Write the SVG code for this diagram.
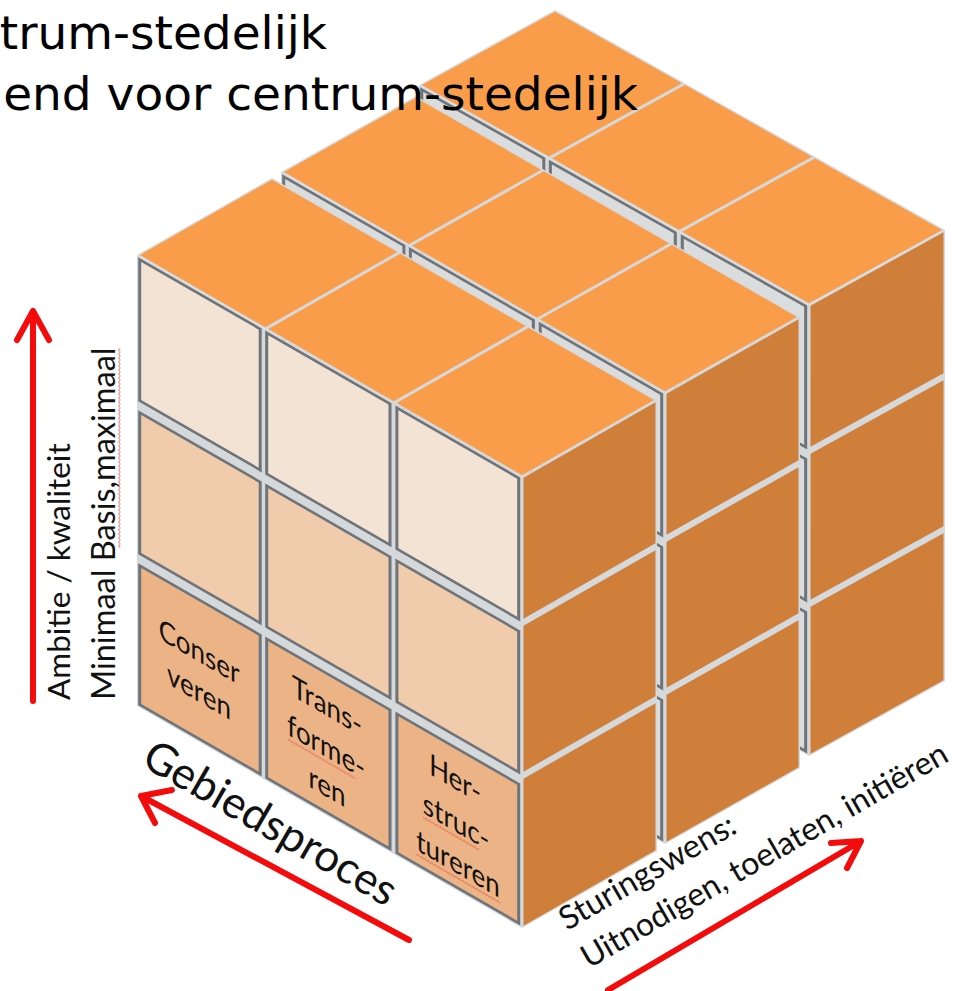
<svg xmlns="http://www.w3.org/2000/svg" width="971" height="991" viewBox="0 0 971 991">
<defs>
<style>
.bg{fill:#D6D9DC}
.top{fill:#F99D4A}
.side{fill:#CF7F39}
.ft{stroke:#6F7479;stroke-width:3}
.r1{fill:#F3E3D5}.r2{fill:#F1CCAC}.r3{fill:#ECB486}
.hid{fill:#DADCDD}
.lbl{font-family:Lato,"Liberation Sans",sans-serif;fill:#111}
.tt{font-family:"DejaVu Sans",Verdana,sans-serif;font-size:47px;fill:#000}
.arr{fill:none;stroke:#F40B0B;stroke-width:6;stroke-linecap:round;stroke-linejoin:round}
</style>
<pattern id="squig" width="4" height="3" patternUnits="userSpaceOnUse"><path d="M0 2.5 L2 0.5 L4 2.5" fill="none" stroke="#E0463C" stroke-width="0.9"/></pattern>
</defs>
<rect width="971" height="991" fill="#FFFFFF"/>

<g id="slab-back">
 <g transform="matrix(1.01299 0.57143 0 1 419 85)">
  <rect class="bg" width="385" height="451"/>
  <g class="ft hid">
   <rect x="2.7" y="3" width="120.5" height="141"/><rect x="129.7" y="3" width="123.3" height="141"/><rect x="259.9" y="3" width="121.8" height="141"/>
   <rect x="2.7" y="156" width="120.5" height="141"/><rect x="129.7" y="156" width="123.3" height="141"/><rect x="259.9" y="156" width="121.8" height="141"/>
   <rect x="2.7" y="309" width="120.5" height="139"/><rect x="129.7" y="309" width="123.3" height="139"/><rect x="259.9" y="309" width="121.8" height="139"/>
  </g>
 </g>
 <g transform="matrix(1.01299 0.57143 1.00741 -0.55556 419 85)">
  <rect class="bg" width="385" height="135"/>
  <rect class="top" x="1.5" y="1.5" width="125.3" height="132"/><rect class="top" x="129.8" y="1.5" width="125.4" height="132"/><rect class="top" x="258.2" y="1.5" width="125.3" height="132"/>
 </g>
 <g transform="matrix(1.00741 -0.55556 0 1 809 305)">
  <rect class="bg" width="135" height="451"/>
  <rect class="side" x="1.5" y="1.5" width="132" height="141"/><rect class="side" x="1.5" y="149.5" width="132" height="146"/><rect class="side" x="1.5" y="302.5" width="132" height="147"/>
 </g>
</g>

<g id="slab-middle">
 <g transform="matrix(0.9974 0.57403 0 1 281 172)">
  <rect class="bg" width="385" height="451"/>
  <g class="ft hid">
   <rect x="2.7" y="3" width="120.5" height="141"/><rect x="129.7" y="3" width="123.3" height="141"/><rect x="259.9" y="3" width="121.8" height="141"/>
   <rect x="2.7" y="156" width="120.5" height="141"/><rect x="129.7" y="156" width="123.3" height="141"/><rect x="259.9" y="156" width="121.8" height="141"/>
   <rect x="2.7" y="309" width="120.5" height="139"/><rect x="129.7" y="309" width="123.3" height="139"/><rect x="259.9" y="309" width="121.8" height="139"/>
  </g>
 </g>
 <g transform="matrix(0.9974 0.57403 1 -0.56296 281 172)">
  <rect class="bg" width="385" height="135"/>
  <rect class="top" x="1.5" y="1.5" width="125.3" height="132"/><rect class="top" x="129.8" y="1.5" width="125.4" height="132"/><rect class="top" x="258.2" y="1.5" width="125.3" height="132"/>
 </g>
 <g transform="matrix(1 -0.56296 0 1 665 393)">
  <rect class="bg" width="135" height="451"/>
  <rect class="side" x="1.5" y="1.5" width="132" height="141"/><rect class="side" x="1.5" y="149.5" width="132" height="146"/><rect class="side" x="1.5" y="302.5" width="132" height="147"/>
 </g>
</g>

<g id="slab-front">
 <g transform="matrix(1 0.57662 0 1 137 255)">
  <rect class="bg" width="385" height="451"/>
  <g class="ft">
   <rect class="r1" x="2.7" y="3" width="120.5" height="141"/><rect class="r1" x="129.7" y="3" width="123.3" height="141"/><rect class="r1" x="259.9" y="3" width="121.8" height="141"/>
   <rect class="r2" x="2.7" y="156" width="120.5" height="141"/><rect class="r2" x="129.7" y="156" width="123.3" height="141"/><rect class="r2" x="259.9" y="156" width="121.8" height="141"/>
   <rect class="r3" x="2.7" y="309" width="120.5" height="139"/><rect class="r3" x="129.7" y="309" width="123.3" height="139"/><rect class="r3" x="259.9" y="309" width="121.8" height="139"/>
  </g>
 </g>
 <g transform="matrix(1 0.57662 1 -0.57037 137 255)">
  <rect class="bg" width="385" height="135"/>
  <rect class="top" x="1.5" y="1.5" width="125.3" height="132"/><rect class="top" x="129.8" y="1.5" width="125.4" height="132"/><rect class="top" x="258.2" y="1.5" width="125.3" height="132"/>
 </g>
 <g transform="matrix(1 -0.57037 0 1 522 477)">
  <rect class="bg" width="135" height="451"/>
  <rect class="side" x="1.5" y="1.5" width="132" height="141"/><rect class="side" x="1.5" y="149.5" width="132" height="146"/><rect class="side" x="1.5" y="302.5" width="132" height="147"/>
 </g>
</g>

<g id="tile-conserveren" class="lbl" font-size="30" text-anchor="middle">
 <text transform="matrix(0.866 0.5 0 1 199 662)">Conser</text>
 <text transform="matrix(0.866 0.5 0 1 199 702)">veren</text>
</g>
<g id="tile-transformeren" class="lbl" font-size="30" text-anchor="middle">
 <text transform="matrix(0.866 0.5 0 1 327 716)">Trans-</text>
 <g transform="matrix(0.866 0.5 0 1 326 757)">
  <text>forme-</text>
  <rect x="-44" y="3" width="78" height="3" fill="url(#squig)"/>
 </g>
 <text transform="matrix(0.866 0.5 0 1 327 797)">ren</text>
</g>
<g id="tile-herstructureren" class="lbl" font-size="30" text-anchor="middle">
 <text transform="matrix(0.866 0.5 0 1 455 789)">Her-</text>
 <g transform="matrix(0.866 0.5 0 1 456 832)">
  <text>struc-</text>
  <rect x="-38" y="3" width="65" height="3" fill="url(#squig)"/>
 </g>
 <g transform="matrix(0.866 0.5 0 1 458 874)">
  <text>tureren</text>
  <rect x="-49" y="3" width="98" height="3" fill="url(#squig)"/>
 </g>
</g>

<g id="axis-labels" class="lbl">
 <text transform="translate(70 700) rotate(-90)" font-size="31.5">Ambitie / kwaliteit</text>
 <g transform="translate(115 700) rotate(-90)">
  <text font-size="32.5">Minimaal Basis,maximaal</text>
  <rect x="152" y="3" width="200" height="3" fill="url(#squig)"/>
 </g>
 <text transform="translate(263 836) rotate(30)" font-size="44" text-anchor="middle">Gebiedsproces</text>
 <text transform="translate(567 931) rotate(-30)" font-size="32.5">Sturingswens:</text>
 <text transform="translate(589 969) rotate(-30)" font-size="32">Uitnodigen, toelaten, initiëren</text>
</g>

<g id="connectors">
 <path class="arr" d="M33 701 L33 311 M17 340 L33 311 L49 340"/>
 <path class="arr" d="M409 940 L141 796 M172 790 L141 796 L155 823"/>
 <path class="arr" d="M608 990 L861 841 M831 843 L861 841 L847 868"/>
</g>

<g id="title">
 <text class="tt" x="327" y="49" text-anchor="end">trum-stedelijk</text>
 <text class="tt" x="638" y="110" text-anchor="end">end voor centrum-stedelijk</text>
</g>
</svg>
